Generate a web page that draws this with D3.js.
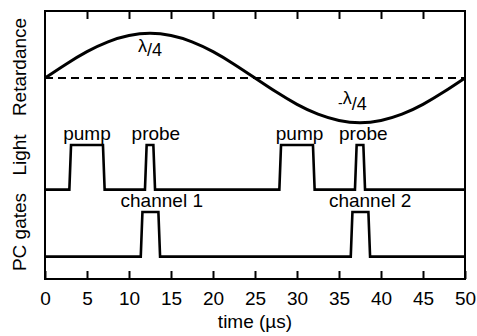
<!DOCTYPE html>
<html><head><meta charset="utf-8">
<script src="https://cdn.jsdelivr.net/npm/d3@7"></script>
<style>
html,body{margin:0;padding:0;background:#fff;}
svg text{font-family:"Liberation Sans",Arial,Helvetica,sans-serif;fill:#000;}
</style></head>
<body>
<script>
// ---- data ----
const xTicks = [0,5,10,15,20,25,30,35,40,45,50];
const xLabel = "time (\u00b5s)";
const rowLabels = ["Retardance","Light","PC gates"];
const rowLabelY = [67, 155, 232]; // pixel centers of row labels
// retardance (in row units; centre line = 4.5)
const retT = [0,2.5,5,7.5,10,12.5,15,17.5,20,22.5,25,27.5,30,32.5,35,37.5,40,42.5,45,47.5,50];
const retV = [4.5,4.81,5.09,5.31,5.45,5.5,5.45,5.31,5.09,4.81,4.5,4.19,3.91,3.69,3.55,3.5,3.55,3.69,3.91,4.19,4.5];
const retCentre = 4.5;
// light pulses (time, level)
const lightT = [0,2.9,3.1,6.9,7.1,11.9,12.1,12.9,13.1,27.9,28.1,31.9,32.1,36.9,37.1,37.9,38.1,50];
const lightV = [2,2,3,3,2,2,3,3,2,2,3,3,2,2,3,3,2,2];
// PC gates
const gateT = [0,11.4,11.6,13.5,13.7,36.4,36.6,38.5,38.7,50];
const gateV = [0.5,0.5,1.5,1.5,0.5,0.5,1.5,1.5,0.5,0.5];
// annotations
const pulseLabels = [{t:5.0,text:"pump"},{t:13.2,text:"probe"},{t:30.3,text:"pump"},{t:37.9,text:"probe"}];
const gateLabels = [{t:13.9,text:"channel 1"},{t:38.7,text:"channel 2"}];
const lambdaLabels = [{t:12.5,v:4.99,sign:""},{t:36.6,v:3.78,sign:"-"}];

// ---- layout ----
const W=477,H=336;
const mL=45,mR=465,mT=11,mB=279;
const svg=d3.select("body").append("svg").attr("width",W).attr("height",H);
const x=d3.scaleLinear().domain([0,50]).range([mL,mR]);
const y=d3.scaleLinear().domain([0,6]).range([mB,mT]);

// frame
svg.append("rect").attr("x",mL).attr("y",mT).attr("width",mR-mL).attr("height",mB-mT)
  .attr("fill","none").attr("stroke","#000").attr("stroke-width",2);

// axes (inward ticks)
const xb=svg.append("g").attr("transform",`translate(0,${mB})`)
  .call(d3.axisBottom(x).tickValues(xTicks).tickSizeInner(-8).tickSizeOuter(0).tickPadding(14));
xb.select(".domain").remove();
xb.selectAll("line").attr("stroke-width",2);
xb.selectAll("text").attr("font-size",19).attr("font-family","Liberation Sans,Arial,sans-serif").attr("dy","0.75em").attr("y",12);
const xt=svg.append("g").attr("transform",`translate(0,${mT})`)
  .call(d3.axisTop(x).tickValues(xTicks.slice(1,-1)).tickSizeInner(-8).tickSizeOuter(0).tickFormat(""));
xt.select(".domain").remove();
xt.selectAll("line").attr("stroke-width",2);

svg.append("text").attr("x",(mL+mR)/2).attr("y",328).attr("text-anchor","middle")
  .attr("font-size",19).text(xLabel);

// row labels
rowLabels.forEach((t,i)=>{
  svg.append("text").attr("transform",`translate(26,${rowLabelY[i]}) rotate(-90)`)
    .attr("text-anchor","middle").attr("font-size",19).text(t);
});

// dashed centre line
svg.append("line").attr("x1",x(0)).attr("x2",x(50)).attr("y1",y(retCentre)).attr("y2",y(retCentre))
  .attr("stroke","#000").attr("stroke-width",2).attr("stroke-dasharray","8,5");

// retardance curve
const lineC=d3.line().x((d,i)=>x(retT[i])).y(d=>y(d)).curve(d3.curveNatural);
svg.append("path").attr("d",lineC(retV)).attr("fill","none").attr("stroke","#000").attr("stroke-width",3);

// pulse traces
const lineL=d3.line().x((d,i)=>x(lightT[i])).y(d=>y(d));
svg.append("path").attr("d",lineL(lightV)).attr("fill","none").attr("stroke","#000").attr("stroke-width",2.6).attr("stroke-linejoin","miter");
const lineG=d3.line().x((d,i)=>x(gateT[i])).y(d=>y(d));
svg.append("path").attr("d",lineG(gateV)).attr("fill","none").attr("stroke","#000").attr("stroke-width",2.6);

// labels
pulseLabels.forEach(d=>{
  svg.append("text").attr("x",x(d.t)).attr("y",140).attr("text-anchor","middle").attr("font-size",19).text(d.text);
});
gateLabels.forEach(d=>{
  svg.append("text").attr("x",x(d.t)).attr("y",207).attr("text-anchor","middle").attr("font-size",19).text(d.text);
});
lambdaLabels.forEach(d=>{
  const t=svg.append("text").attr("x",x(d.t)).attr("y",y(d.v)).attr("text-anchor","middle");
  if(d.sign) t.append("tspan").attr("font-size",14).attr("dy",-2).text(d.sign);
  t.append("tspan").attr("font-size",18).attr("dy",d.sign?-4:-4).text("\u03bb");
  t.append("tspan").attr("font-size",18).attr("dy",d.sign?6:4).text("/4");
});
</script>
</body></html>
